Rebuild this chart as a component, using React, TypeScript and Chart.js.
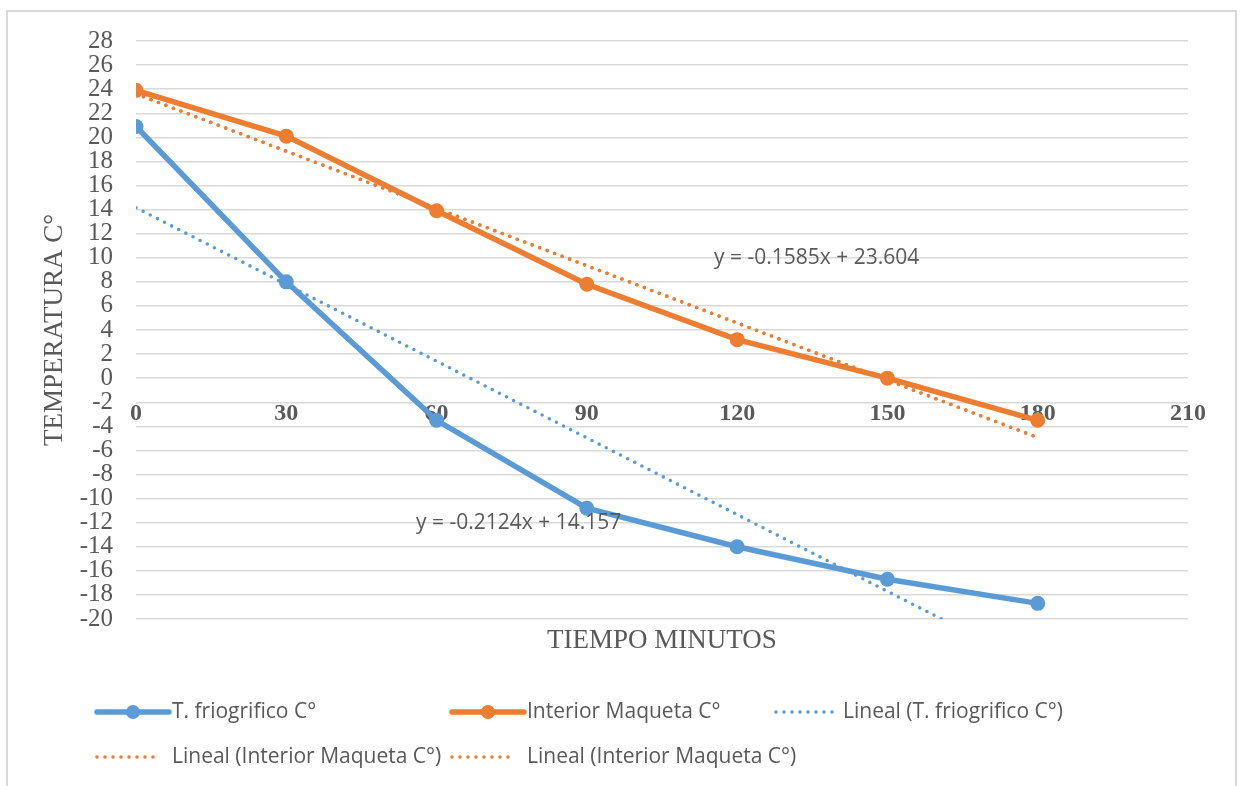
import React, { useEffect, useRef } from "react";
import { Chart, registerables } from "chart.js";

Chart.register(...registerables);

const minutes = [0, 30, 60, 90, 120, 150, 180];
const friogrifico = [20.9, 8.0, -3.5, -10.8, -14.0, -16.7, -18.7];
const maqueta = [23.9, 20.1, 13.9, 7.8, 3.2, 0.0, -3.5];
const trendX = [0, 180];
const trendFriogrifico = [14.157, -24.075];
const trendMaqueta = [23.604, -4.926];
const eqFriogrifico = "y = -0.2124x + 14.157";
const eqMaqueta = "y = -0.1585x + 23.604";
const eqFriogPos = [55.9, -12.0];
const eqMaqPos = [115.4, 10.0];
const seriesLabels = [
  "T. friogrifico C°",
  "Interior Maqueta C°",
  "Lineal (T. friogrifico C°)",
  "Lineal (Interior Maqueta C°)",
  "Lineal (Interior Maqueta C°)",
];
const yTitle = "TEMPERATURA C°";
const xTitle = "TIEMPO MINUTOS";

const BLUE = "#5B9BD5";
const ORANGE = "#ED7D31";
const TEXT = "#595959";
const SANS = "'Open Sans', sans-serif";
const SERIF = "'Liberation Serif', 'Times New Roman', serif";

const pts = (xs: number[], ys: number[]) => xs.map((x, i) => ({ x, y: ys[i] }));

const overlay = {
  id: "overlay",
  afterDraw(chart: any) {
    const ctx = chart.ctx;
    const xs = chart.scales.x;
    const ys = chart.scales.y;
    const area = chart.chartArea;
    ctx.save();
    ctx.fillStyle = TEXT;
    ctx.font = `27px ${SERIF}`;
    ctx.textAlign = "center";
    ctx.textBaseline = "middle";
    ctx.fillText(xTitle, (area.left + area.right) / 2, 641);
    ctx.save();
    ctx.translate(55, (area.top + area.bottom) / 2);
    ctx.rotate(-Math.PI / 2);
    ctx.fillText(yTitle, 0, 0);
    ctx.restore();
    ctx.font = `21px ${SANS}`;
    ctx.textAlign = "left";
    ctx.fillText(eqMaqueta, xs.getPixelForValue(eqMaqPos[0]), ys.getPixelForValue(eqMaqPos[1]));
    ctx.fillText(eqFriogrifico, xs.getPixelForValue(eqFriogPos[0]), ys.getPixelForValue(eqFriogPos[1]));
    const legendPos = [
      [97, 712],
      [452, 712],
      [776, 712],
      [97, 757],
      [452, 757],
    ];
    chart.data.datasets.forEach((ds: any, i: number) => {
      const [lx, ly] = legendPos[i];
      const dotted = !!ds.borderDash;
      const len = dotted ? 64 : 72;
      ctx.save();
      ctx.strokeStyle = ds.borderColor;
      ctx.lineWidth = ds.borderWidth;
      ctx.lineCap = "round";
      if (dotted) ctx.setLineDash(ds.borderDash);
      ctx.beginPath();
      ctx.moveTo(lx, ly);
      ctx.lineTo(lx + len, ly);
      ctx.stroke();
      if (!dotted) {
        ctx.fillStyle = ds.borderColor;
        ctx.beginPath();
        ctx.arc(lx + len / 2, ly, 7, 0, Math.PI * 2);
        ctx.fill();
      }
      ctx.restore();
      ctx.fillStyle = TEXT;
      ctx.font = `21px ${SANS}`;
      ctx.textAlign = "left";
      ctx.textBaseline = "middle";
      ctx.fillText(ds.label, lx + (i === 2 ? 67 : 75), ly);
    });
    ctx.restore();
  },
};

export default function App() {
  const ref = useRef<HTMLCanvasElement>(null);
  useEffect(() => {
    if (!ref.current) return;
    const dotted = [0, 8];
    const trendStyle = {
      borderWidth: 3.6,
      borderDash: dotted,
      borderCapStyle: "round",
      pointRadius: 0,
    };
    const chart = new Chart(ref.current, {
      type: "line",
      data: {
        datasets: [
          {
            label: seriesLabels[0],
            data: pts(minutes, friogrifico),
            borderColor: BLUE,
            backgroundColor: BLUE,
            borderWidth: 5.5,
            pointRadius: 7.5,
            pointBackgroundColor: BLUE,
            pointBorderColor: BLUE,
            pointBorderWidth: 0,
            tension: 0,
          },
          {
            label: seriesLabels[1],
            data: pts(minutes, maqueta),
            borderColor: ORANGE,
            backgroundColor: ORANGE,
            borderWidth: 5.5,
            pointRadius: 7.5,
            pointBackgroundColor: ORANGE,
            pointBorderColor: ORANGE,
            pointBorderWidth: 0,
            tension: 0,
          },
          { label: seriesLabels[2], data: pts(trendX, trendFriogrifico), borderColor: BLUE, ...trendStyle },
          { label: seriesLabels[3], data: pts(trendX, trendMaqueta), borderColor: ORANGE, ...trendStyle },
          { label: seriesLabels[4], data: pts(trendX, trendMaqueta), borderColor: ORANGE, ...trendStyle },
        ],
      },
      options: {
        responsive: false,
        animation: false,
        layout: { padding: { left: 0, top: 41, right: 52, bottom: 167 } },
        plugins: { legend: { display: false }, tooltip: { enabled: false } },
        scales: {
          x: {
            type: "linear",
            position: { y: 0 },
            min: 0,
            max: 210,
            grid: { display: false },
            border: { display: false },
            ticks: {
              stepSize: 30,
              padding: 13,
              autoSkip: false,
              color: TEXT,
              font: { family: SERIF, size: 24, weight: "bold" },
            },
          },
          y: {
            type: "linear",
            min: -20,
            max: 28,
            afterFit: (s: any) => {
              s.width = 136;
            },
            grid: { color: "#d9d9d9", lineWidth: 1.5, drawTicks: false },
            border: { display: false },
            ticks: {
              stepSize: 2,
              padding: 23,
              autoSkip: false,
              color: TEXT,
              font: { family: SERIF, size: 25 },
            },
          },
        },
      } as any,
      plugins: [overlay],
    });
    return () => chart.destroy();
  }, []);
  return (
    <div style={{ position: "fixed", left: 0, top: 0, width: 1240, height: 786, overflow: "hidden", background: "#fff" }}>
      <div
        style={{
          position: "absolute",
          left: 6,
          top: 10,
          width: 1227,
          height: 900,
          border: "2px solid #d9d9d9",
        }}
      />
      <canvas ref={ref} width={1240} height={786} style={{ position: "absolute", left: 0, top: 0 }} />
    </div>
  );
}
